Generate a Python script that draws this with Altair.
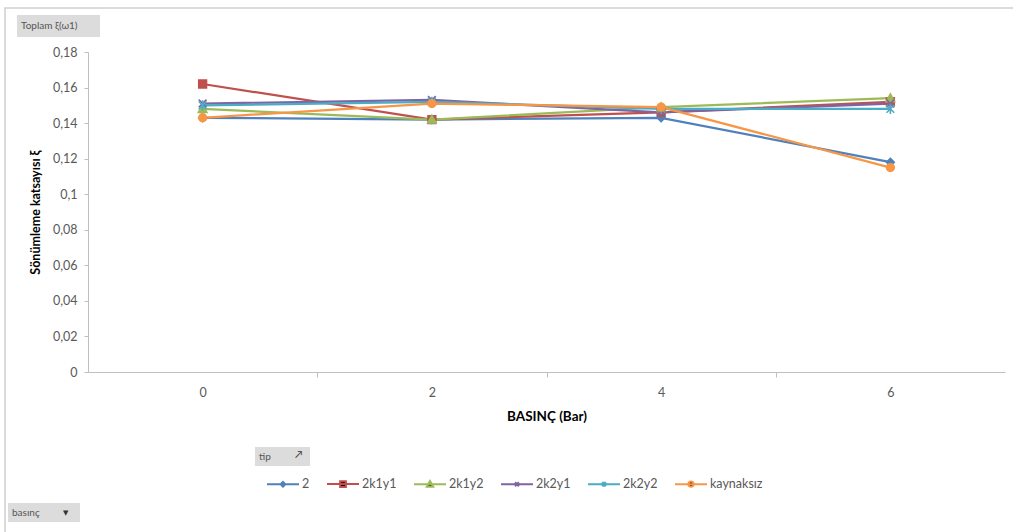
import altair as alt
import pandas as pd

# ---- data ----
pressure = [0, 2, 4, 6]
series_names = ["2", "2k1y1", "2k1y2", "2k2y1", "2k2y2", "kaynaksız"]
s_2 = [0.143, 0.142, 0.143, 0.118]
s_2k1y1 = [0.162, 0.142, 0.146, 0.152]
s_2k1y2 = [0.148, 0.142, 0.149, 0.154]
s_2k2y1 = [0.151, 0.153, 0.146, 0.151]
s_2k2y2 = [0.150, 0.152, 0.148, 0.148]
s_kaynaksiz = [0.143, 0.151, 0.149, 0.115]
y_ticks = [0, 0.02, 0.04, 0.06, 0.08, 0.1, 0.12, 0.14, 0.16, 0.18]
x_ticks = [0, 1, 2, 3, 4, 5, 6]

colors = ["#4F81BD", "#C0504D", "#9BBB59", "#8064A2", "#4BACC6", "#F79646"]
marker_paths = [
    "M0,-1L1,0L0,1L-1,0Z",
    "M-1,-1L1,-1L1,1L-1,1Z",
    "M0,-1.1L1.1,0.9L-1.1,0.9Z",
    "M-1,-1L1,1M-1,1L1,-1",
    "M-1,-1L1,1M-1,1L1,-1M0,-1.3L0,1.3",
    "circle",
]
legend_paths = [
    "M-1,0L1,0M0,-0.15L0.15,0L0,0.15L-0.15,0Z",
    "M-1,0L1,0M-0.18,-0.18L0.18,-0.18L0.18,0.18L-0.18,0.18Z",
    "M-1,0L1,0M0,-0.2L0.2,0.16L-0.2,0.16Z",
    "M-1,0L1,0M-0.12,-0.12L0.12,0.12M-0.12,0.12L0.12,-0.12",
    "M-1,0L1,0M-0.12,-0.12L0.12,0.12M-0.12,0.12L0.12,-0.12M0,-0.16L0,0.16",
    "M-1,0L1,0M0.17,0A0.17,0.17,0,1,1,-0.17,0A0.17,0.17,0,1,1,0.17,0Z",
]

all_values = [s_2, s_2k1y1, s_2k1y2, s_2k2y1, s_2k2y2, s_kaynaksiz]
rows = []
for name, vals in zip(series_names, all_values):
    for p, v in zip(pressure, vals):
        rows.append({"series": name, "basinc": p, "xi": v})
df = pd.DataFrame(rows)

FONT = "Lato"
GRAY = "#595959"
AXC = "#bfbfbf"

x_enc = alt.X(
    "basinc:Q",
    scale=alt.Scale(domain=[-1, 7], nice=False, zero=False),
    axis=alt.Axis(
        values=x_ticks,
        labelExpr="datum.value % 2 == 0 ? datum.label : ''",
        tickOpacity={"condition": {"test": "datum.value % 2 == 0", "value": 0}, "value": 1},
        tickSize=5,
        tickColor=AXC,
        domainColor=AXC,
        labelPadding=9,
        labelFont=FONT,
        labelFontSize=12.5,
        labelColor=GRAY,
        labelFlush=False,
        title="BASINÇ (Bar)",
        titleFont=FONT,
        titleFontSize=13.5,
        titleFontWeight="bold",
        titleColor="#000000",
        titlePadding=11,
        grid=False,
    ),
)
y_enc = alt.Y(
    "xi:Q",
    scale=alt.Scale(domain=[0, 0.18], nice=False),
    axis=alt.Axis(
        values=y_ticks,
        labelExpr="replace(format(datum.value, '.2~f'), '.', ',')",
        tickSize=4,
        tickColor=AXC,
        domainColor=AXC,
        labelPadding=7,
        labelFont=FONT,
        labelFontSize=12.5,
        labelColor=GRAY,
        title="Sönümleme katsayısı ξ",
        titleFont=FONT,
        titleFontSize=12.5,
        titleFontWeight="bold",
        titleColor="#000000",
        titlePadding=10,
        grid=False,
    ),
)

base = alt.Chart(df)

lines = base.mark_line(strokeWidth=2.25).encode(
    x=x_enc,
    y=y_enc,
    color=alt.Color("series:N", scale=alt.Scale(domain=series_names, range=colors), legend=None),
    detail="series:N",
)

points = base.mark_point(filled=True, size=60, strokeWidth=1.6, opacity=1).encode(
    x=x_enc,
    y=y_enc,
    color=alt.Color("series:N", scale=alt.Scale(domain=series_names, range=colors), legend=None),
    stroke=alt.Stroke("series:N", scale=alt.Scale(domain=series_names, range=colors), legend=None),
    shape=alt.Shape("series:N", scale=alt.Scale(domain=series_names, range=marker_paths), legend=None),
)

leg_props = dict(
    title=None,
    orient="none",
    legendX=178,
    legendY=415,
    direction="horizontal",
    columns=6,
    symbolOpacity=1,
    symbolSize=1024,
    symbolStrokeWidth=2,
    labelFont=FONT,
    labelFontSize=12.5,
    labelColor=GRAY,
    labelOffset=2,
    columnPadding=13,
)

legend_layer = base.mark_point(filled=True, opacity=0, size=1024, strokeWidth=2).encode(
    x=x_enc,
    y=y_enc,
    fill=alt.Fill("series:N", scale=alt.Scale(domain=series_names, range=colors),
                  legend=alt.Legend(**leg_props)),
    stroke=alt.Stroke("series:N", scale=alt.Scale(domain=series_names, range=colors),
                      legend=alt.Legend(**leg_props)),
    shape=alt.Shape("series:N", scale=alt.Scale(domain=series_names, range=legend_paths),
                    legend=alt.Legend(**leg_props)),
)

# ---- pivot-chart decorations (frame and field buttons) ----
one = pd.DataFrame({"a": [0]})
frame = alt.Chart(one).mark_rect(fill=None, stroke="#d0d0d0", strokeWidth=1.5).encode(
    x=alt.value(-83), x2=alt.value(935), y=alt.value(-44), y2=alt.value(490)
)
btn1 = alt.Chart(one).mark_rect(fill="#dcdcdc").encode(
    x=alt.value(-71), x2=alt.value(12), y=alt.value(-37), y2=alt.value(-15)
)
btn1_t = alt.Chart(one).mark_text(text="Toplam ξ(ω1)", font=FONT, fontSize=10, color="#555555",
                                  align="left", baseline="middle").encode(
    x=alt.value(-67), y=alt.value(-26)
)
btn2 = alt.Chart(one).mark_rect(fill="#dcdcdc").encode(
    x=alt.value(167), x2=alt.value(222), y=alt.value(395), y2=alt.value(414)
)
btn2_t = alt.Chart(one).mark_text(text="tip", font=FONT, fontSize=10, color="#555555",
                                  align="left", baseline="middle").encode(
    x=alt.value(171), y=alt.value(405)
)
btn2_i = alt.Chart(one).mark_text(text="↗", font=FONT, fontSize=10, color="#333333",
                                  align="left", baseline="middle").encode(
    x=alt.value(207), y=alt.value(403)
)
btn3 = alt.Chart(one).mark_rect(fill="#dcdcdc").encode(
    x=alt.value(-80), x2=alt.value(-8), y=alt.value(451), y2=alt.value(470)
)
btn3_t = alt.Chart(one).mark_text(text="basınç", font=FONT, fontSize=10, color="#555555",
                                  align="left", baseline="middle").encode(
    x=alt.value(-76), y=alt.value(461)
)
btn3_i = alt.Chart(one).mark_text(text="▼", font="DejaVu Sans", fontSize=7, color="#333333",
                                  align="left", baseline="middle").encode(
    x=alt.value(-25), y=alt.value(461)
)

chart = alt.layer(
    frame, btn1, btn1_t, btn2, btn2_t, btn2_i, btn3, btn3_t, btn3_i,
    lines, points, legend_layer,
).resolve_scale(
    shape="independent", stroke="independent"
).properties(
    width=917,
    height=320,
    autosize=alt.AutoSizeParams(type="none"),
    padding={"left": 88, "top": 52, "right": 8, "bottom": 160},
    background="white",
).configure_view(stroke=None)

chart.save("out.html", embed_options={"renderer": "svg", "actions": False})
